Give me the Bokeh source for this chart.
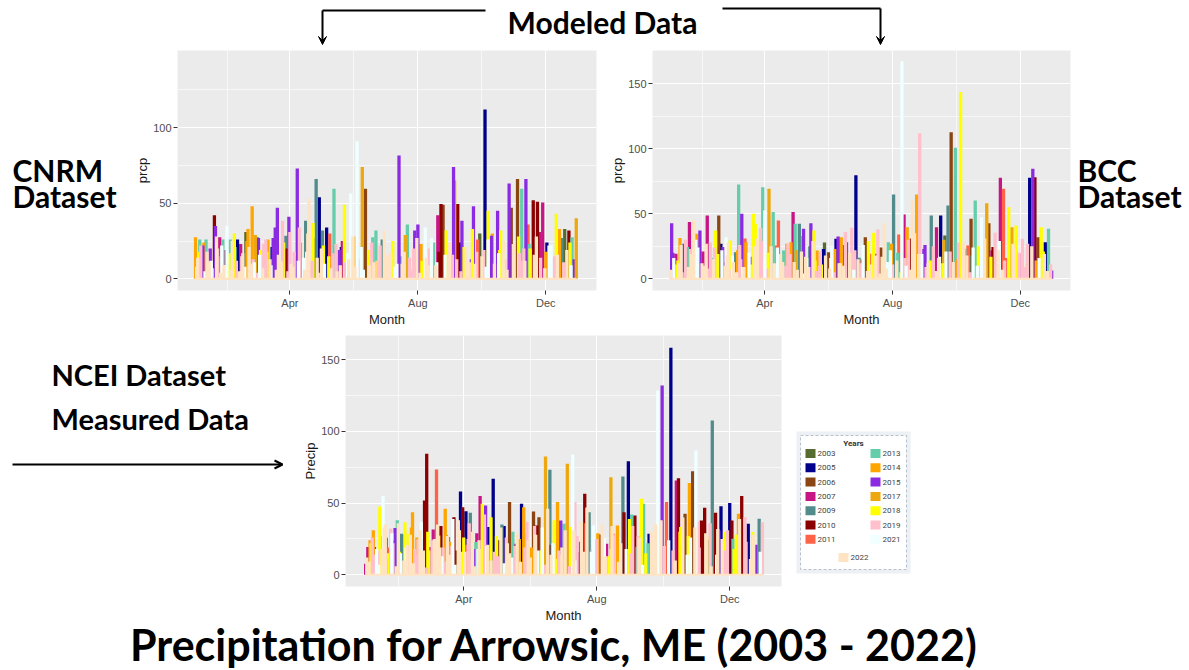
import pandas as pd
from bokeh.plotting import figure
from bokeh.layouts import column, row
from bokeh.models import Range1d, FixedTicker, ColumnDataSource, Arrow, VeeHead, OpenHead
from bokeh.core.properties import value
from bokeh.embed import file_html
from bokeh.resources import INLINE

# ---------------- data ----------------
YEARS = [2003, 2005, 2006, 2007, 2009, 2010, 2011, 2013, 2014, 2015, 2017, 2018, 2019, 2021, 2022]
YEAR_COLORS = ["#556B2F", "#00008B", "#8B4513", "#C71585", "#528B8B", "#8B0000", "#FF6347",
               "#66CDAA", "#FFA500", "#8A2BE2", "#EEA80F", "#FFFF00", "#FFC0CB", "#F0FFFF", "#FFE4C4"]
MONTH_TICKS = [91, 213, 335]
MONTH_LABELS = ["Apr", "Aug", "Dec"]
MONTH_MINOR = [31, 152, 274]

# CNRM (modeled) - prominent daily peaks
cnrm_days = [1, 5, 8, 11, 19, 20, 24, 27, 31, 38,
             41, 44, 49, 51, 55, 60, 61, 66, 70, 74,
             77, 79, 84, 87, 90, 98, 100, 106, 109, 113,
             116, 119, 122, 126, 133, 140, 143, 149, 155, 160,
             163, 170, 173, 181, 195, 203, 210, 213, 220, 228,
             232, 235, 237, 247, 248, 251, 255, 265, 266, 272,
             277, 280, 283, 289, 292, 300, 302, 308, 312, 316,
             318, 323, 327, 332, 336, 345, 348, 353, 357, 360, 364]
cnrm_vals = [27.5, 26, 22, 26, 42, 35, 27.5, 26, 35, 30,
             26, 23, 31, 33, 48, 27.5, 27, 23, 26, 21,
             34, 47, 38.5, 28.5, 41, 73, 34, 38.5, 53, 37,
             66, 54, 32, 34, 59.5, 21, 49, 56.5, 91, 74,
             59.5, 27.5, 32, 32, 81.5, 36, 32, 36, 34, 24,
             42, 49.5, 49, 74, 65, 49.5, 38.5, 33, 48, 30,
             112, 45, 28.5, 45, 32, 63, 47, 66, 59.5, 66,
             36, 52, 51, 50.5, 24, 43, 33, 33, 32, 27.5, 40]
cnrm_years = [2014, 2013, 2015, 2013, 2010, 2015, 2007, 2013, 2021, 2018,
              2005, 2007, 2003, 2014, 2014, 2009, 2015, 2019, 2014, 2005,
              2015, 2015, 2019, 2009, 2015, 2015, 2019, 2009, 2022, 2018,
              2009, 2005, 2009, 2005, 2013, 2005, 2018, 2021, 2021, 2017,
              2006, 2013, 2013, 2022, 2015, 2013, 2015, 2015, 2021, 2013,
              2007, 2010, 2006, 2015, 2014, 2010, 2015, 2018, 2015, 2003,
              2005, 2018, 2015, 2015, 2018, 2015, 2006, 2006, 2013, 2015,
              2011, 2010, 2010, 2007, 2005, 2018, 2014, 2003, 2010, 2013, 2017]
# CNRM - moderate days
cnrm_mid_days = [4, 9, 13, 15, 21, 23, 26, 30, 34, 37,
                 39, 46, 50, 56, 58, 62, 67, 69, 75, 82,
                 88, 91, 96, 101, 107, 114, 117, 123, 129, 132,
                 138, 141, 147, 154, 159, 165, 169, 174, 179, 187,
                 196, 201, 209, 216, 221, 226, 233, 240, 246, 253,
                 259, 264, 270, 276, 284, 290, 295, 303, 309, 314,
                 319, 324, 329, 335, 338, 343, 350, 355, 358, 362]
cnrm_mid_vals = [18, 24, 12, 20, 28, 15, 22, 19, 26, 14,
                 21, 17, 25, 13, 29, 16, 23, 18, 27, 12,
                 20, 31, 15, 24, 18, 27, 14, 22, 30, 17,
                 19, 25, 13, 28, 21, 16, 24, 12, 26, 18,
                 15, 29, 20, 23, 14, 27, 18, 32, 16, 24,
                 21, 13, 26, 19, 30, 17, 25, 14, 28, 20,
                 23, 16, 31, 18, 22, 15, 27, 19, 24, 13]
# CNRM - low days
cnrm_low_days = [3, 6, 12, 16, 22, 28, 33, 36, 45, 52,
                 57, 63, 68, 72, 80, 85, 92, 95, 104, 108,
                 112, 121, 128, 135, 139, 146, 151, 158, 166, 171,
                 177, 184, 189, 193, 200, 205, 212, 217, 224, 230,
                 239, 243, 250, 257, 262, 269, 274, 280, 286, 291,
                 296, 304, 310, 315, 320, 326, 330, 340, 346, 352,
                 2, 10, 14, 17, 25, 29, 35, 40, 43, 48,
                 54, 59, 65, 73, 78, 83, 89, 94, 99, 105,
                 111, 118, 124, 130, 136, 144, 153, 161, 167, 175,
                 183, 191, 198, 207, 215, 223, 231, 242, 254, 267,
                 278, 298, 313, 334, 359]
cnrm_low_vals = [14, 22, 18, 12, 20, 9, 17, 25, 15, 21,
                 11, 19, 26, 13, 16, 24, 10, 18, 14, 30,
                 12, 20, 15, 23, 9, 17, 28, 13, 19, 11,
                 22, 16, 25, 10, 18, 14, 27, 12, 20, 9,
                 16, 24, 13, 21, 11, 18, 15, 26, 10, 19,
                 13, 23, 17, 12, 20, 28, 14, 22, 16, 11,
                 8, 5, 11, 7, 4, 9, 6, 12, 5, 8,
                 10, 4, 7, 9, 6, 11, 5, 8, 12, 6,
                 9, 4, 10, 7, 5, 11, 8, 6, 9, 12,
                 5, 8, 10, 6, 4, 9, 11, 7, 5, 10,
                 8, 6, 12, 7, 9]
LOW_YEARS_A = [2022, 2019, 2022, 2021, 2019, 2022, 2018, 2022, 2019, 2022,
               2021, 2018, 2019, 2022, 2022, 2018, 2022, 2019, 2021, 2022,
               2019, 2022, 2018, 2019, 2022, 2021, 2022, 2019, 2018, 2022,
               2019, 2022, 2018, 2021, 2022, 2019, 2022, 2018, 2019, 2022,
               2021, 2022, 2019, 2018, 2022, 2019, 2022, 2021, 2022, 2018,
               2019, 2022, 2019, 2022, 2018, 2022, 2019, 2021, 2022, 2019,
               2022, 2021, 2022, 2019, 2022, 2021, 2022, 2019, 2022, 2021,
               2022, 2019, 2022, 2021, 2022, 2022, 2019, 2022, 2021, 2022,
               2019, 2022, 2021, 2022, 2022, 2019, 2022, 2021, 2022, 2019,
               2022, 2021, 2022, 2019, 2022, 2022, 2021, 2022, 2019, 2022,
               2021, 2022, 2019, 2022, 2021]
MID_YEARS = [2018, 2014, 2019, 2015, 2022, 2011, 2021, 2007, 2013, 2018,
             2009, 2022, 2014, 2019, 2017, 2021, 2005, 2018, 2015, 2022,
             2010, 2019, 2013, 2014, 2021, 2006, 2022, 2018, 2011, 2019,
             2015, 2007, 2022, 2014, 2021, 2003, 2019, 2018, 2009, 2022,
             2013, 2017, 2019, 2014, 2022, 2021, 2010, 2018, 2019, 2005,
             2022, 2015, 2011, 2019, 2014, 2021, 2022, 2006, 2018, 2019,
             2013, 2022, 2007, 2014, 2021, 2019, 2009, 2022, 2018, 2015]

# BCC (modeled)
bcc_days = [2, 6, 10, 14, 17, 19, 23, 26, 29, 36,
            44, 47, 49, 51, 54, 58, 63, 66, 69, 73,
            80, 82, 86, 87, 89, 91, 95, 99, 102, 104,
            109, 116, 118, 120, 124, 128, 135, 138, 141, 147,
            152, 159, 161, 164, 169, 174, 178, 181, 187, 191,
            195, 198, 205, 209, 214, 219, 222, 224, 227, 232,
            236, 239, 243, 250, 255, 259, 263, 266, 269, 273,
            278, 282, 285, 288, 292, 298, 303, 305, 309, 311,
            316, 319, 324, 327, 331, 337, 344, 347, 349, 352,
            355, 359, 362, 365]
bcc_vals = [42.8, 19.2, 31.3, 26.9, 24.4, 43.6, 44.9, 34.6, 37.2, 48.7,
            37.2, 48.7, 26.9, 24.4, 32, 29.5, 20.5, 72.6, 50, 28.2,
            50, 42.3, 23, 39.2, 70.5, 52.6, 69.2, 51.3, 25.6, 44.9,
            21.8, 28.2, 51.3, 42.3, 42.3, 38.5, 42.8, 37.2, 21.8, 23,
            20.5, 30.8, 32.6, 32, 28.2, 39.2, 79.7, 16.2, 32, 19.2,
            35.4, 19.2, 42.8, 28.2, 64.9, 34.1, 167.4, 49.5, 39.7, 60.3,
            64.9, 112, 23, 48.7, 39.7, 48.7, 33.3, 56.4, 112.8, 100.8,
            143.6, 23, 25.6, 46.2, 60.3, 47.4, 58.2, 42.8, 24.4, 35.4,
            77.7, 69.2, 55.1, 39.7, 41, 30.8, 77.7, 84.6, 78.2, 32,
            39.7, 28.2, 38.5, 6.4]
bcc_years = [2015, 2007, 2014, 2005, 2013, 2007, 2022, 2014, 2015, 2007,
             2018, 2006, 2005, 2015, 2021, 2018, 2009, 2013, 2015, 2014,
             2018, 2018, 2005, 2019, 2013, 2021, 2017, 2013, 2011, 2011,
             2013, 2014, 2007, 2013, 2009, 2015, 2015, 2018, 2014, 2005,
             2006, 2005, 2015, 2014, 2015, 2019, 2005, 2009, 2006, 2011,
             2018, 2010, 2022, 2013, 2009, 2011, 2021, 2007, 2014, 2022,
             2014, 2019, 2015, 2009, 2007, 2005, 2003, 2009, 2006, 2013,
             2018, 2013, 2011, 2006, 2013, 2021, 2017, 2006, 2010, 2019,
             2007, 2011, 2018, 2017, 2018, 2019, 2005, 2015, 2010, 2006,
             2018, 2005, 2013, 2015]
bcc_mid_days = [3, 8, 11, 16, 20, 25, 28, 32, 35, 40,
                43, 46, 52, 56, 60, 65, 68, 72, 77, 81,
                85, 88, 94, 98, 103, 108, 112, 115, 121, 127,
                130, 134, 139, 144, 148, 154, 158, 162, 167, 171,
                177, 184, 190, 197, 202, 208, 212, 218, 225, 231,
                238, 244, 249, 253, 258, 262, 268, 275, 281, 289,
                295, 302, 308, 315, 322, 329, 336, 342, 350, 357]
bcc_mid_vals = [20, 14, 26, 17, 23, 30, 12, 21, 27, 16,
                24, 19, 13, 28, 18, 22, 15, 31, 17, 25,
                14, 29, 20, 16, 24, 13, 27, 19, 22, 33,
                17, 25, 14, 21, 28, 16, 23, 12, 26, 19,
                22, 15, 29, 18, 24, 13, 27, 20, 16, 31,
                19, 26, 14, 23, 17, 30, 21, 15, 28, 18,
                25, 13, 22, 29, 16, 24, 19, 27, 14, 21]
bcc_low_days = [4, 9, 15, 21, 27, 33, 39, 42, 50, 55,
                61, 67, 71, 76, 84, 90, 97, 101, 106, 113,
                119, 126, 131, 137, 143, 149, 155, 163, 168, 172,
                180, 185, 192, 199, 203, 211, 217, 228, 234, 241,
                247, 252, 257, 264, 271, 276, 284, 290, 296, 301,
                307, 314, 320, 328, 334, 341, 346, 353, 358, 364,
                1, 7, 12, 18, 24, 31, 37, 45, 53, 57,
                64, 70, 78, 83, 93, 100, 107, 111, 122, 129,
                133, 140, 145, 153, 157, 166, 176, 183, 189, 196,
                201, 207, 213, 221, 226, 230, 245, 255, 261, 280,
                287, 294, 318, 339, 361]
bcc_low_vals = [16, 12, 30, 19, 24, 10, 28, 15, 22, 18,
                13, 26, 9, 20, 31, 14, 25, 11, 19, 27,
                13, 21, 16, 29, 10, 18, 24, 12, 36, 20,
                15, 26, 11, 38, 17, 22, 14, 30, 35, 19,
                12, 25, 16, 21, 13, 28, 18, 24, 10, 31,
                17, 22, 14, 27, 20, 12, 25, 16, 19, 11,
                7, 11, 5, 9, 6, 12, 8, 4, 10, 7,
                5, 9, 11, 6, 8, 12, 5, 10, 7, 4,
                9, 6, 11, 8, 5, 10, 7, 12, 6, 9,
                4, 8, 11, 5, 10, 7, 9, 6, 12, 8,
                5, 10, 7, 9, 6]

# NCEI (measured)
ncei_days = [1, 3, 5, 9, 14, 17, 20, 24, 28, 34,
             37, 40, 44, 49, 53, 55, 57, 60, 63, 66,
             68, 69, 74, 77, 82, 88, 90, 93, 97, 102,
             106, 108, 111, 114, 116, 118, 123, 128, 133, 138,
             144, 146, 148, 155, 158, 160, 166, 170, 177, 180,
             183, 186, 189, 191, 193, 196, 202, 206, 210, 216,
             219, 222, 226, 228, 232, 237, 238, 242, 245, 248,
             250, 254, 256, 261, 269, 273, 277, 281, 286, 288,
             290, 294, 298, 301, 304, 309, 312, 314, 319, 322,
             325, 327, 331, 335, 337, 338, 343, 346, 349, 352,
             356, 362, 365]
ncei_vals = [7.7, 19.3, 24, 19.3, 47.7, 54.9, 25.8, 32.1, 32.6, 28.6,
             36.7, 28.6, 43.7, 24.7, 25.1, 51.9, 84.4, 19.3, 31.6, 73.5,
             27.4, 27.9, 46, 26.3, 40.2, 58.1, 47.2, 44.4, 43.3, 22.8,
             54.9, 49.5, 48.4, 33.3, 40.2, 67, 24, 34, 50.7, 21.6,
             49.5, 47.2, 28.6, 44.2, 34.4, 40.2, 82.6, 73.3, 50.7, 37.9,
             35.6, 77.4, 33.3, 84, 50.7, 15.8, 56.5, 43.7, 34.4, 28.1,
             19.3, 21.6, 68.1, 28.6, 34.4, 68.6, 43.7, 79.3, 42.1, 41.4,
             19.3, 53, 49.5, 28.6, 128.6, 132.1, 50.7, 158.4, 65.8, 67.4,
             33.3, 42.6, 64, 72.3, 86.7, 37.9, 46.7, 26.3, 107.7, 43.3,
             30.9, 47.9, 29.8, 50, 37.9, 25.1, 42.6, 54.9, 40.2, 35.6,
             29.8, 39.1, 36.7]
ncei_years = [2007, 2007, 2014, 2007, 2018, 2021, 2009, 2019, 2015, 2009,
              2018, 2018, 2014, 2019, 2009, 2010, 2010, 2007, 2007, 2011,
              2018, 2005, 2014, 2009, 2010, 2005, 2010, 2005, 2009, 2013,
              2007, 2018, 2015, 2005, 2018, 2005, 2006, 2005, 2006, 2007,
              2005, 2014, 2014, 2006, 2010, 2006, 2017, 2009, 2014, 2015,
              2013, 2017, 2018, 2021, 2019, 2010, 2010, 2009, 2021, 2006,
              2010, 2007, 2017, 2011, 2014, 2009, 2010, 2005, 2013, 2010,
              2013, 2018, 2013, 2005, 2021, 2015, 2011, 2005, 2007, 2010,
              2018, 2006, 2014, 2006, 2021, 2010, 2010, 2018, 2009, 2010,
              2015, 2005, 2018, 2005, 2010, 2013, 2014, 2010, 2019, 2005,
              2018, 2009, 2019]
ncei_mid_days = [6, 8, 12, 15, 19, 21, 25, 27, 30, 32,
                 35, 39, 43, 46, 48, 52, 56, 58, 61, 64,
                 70, 72, 75, 79, 81, 84, 87, 91, 94, 96,
                 100, 103, 105, 109, 112, 115, 119, 121, 126, 131,
                 136, 142, 149, 153, 157, 163, 169, 174, 178, 185,
                 192, 198, 203, 209, 214, 220, 227, 236, 243, 251,
                 260, 267, 278, 289, 299, 306, 315, 324, 341, 359]
ncei_mid_vals = [22, 31, 17, 27, 35, 19, 29, 24, 38, 16,
                 28, 21, 33, 18, 26, 37, 20, 30, 15, 25,
                 34, 19, 28, 23, 39, 17, 31, 26, 21, 36,
                 18, 29, 24, 40, 20, 32, 16, 27, 35, 22,
                 30, 25, 37, 19, 28, 33, 21, 38, 17, 26,
                 31, 23, 36, 18, 29, 25, 34, 20, 39, 27,
                 22, 35, 19, 30, 26, 37, 24, 32, 28, 21]
ncei_low_days = [2, 7, 11, 18, 22, 26, 31, 38, 42, 47,
                 51, 59, 62, 67, 71, 76, 80, 86, 89, 95,
                 99, 104, 110, 113, 120, 125, 130, 135, 140, 147,
                 150, 156, 162, 168, 173, 179, 184, 190, 195, 199,
                 204, 208, 213, 218, 224, 229, 235, 240, 246, 252,
                 258, 263, 268, 272, 279, 283, 292, 297, 303, 307,
                 313, 317, 323, 328, 333, 339, 344, 350, 357, 363,
                 4, 9, 13, 16, 20, 29, 33, 36, 40, 45,
                 49, 54, 57, 65, 69, 73, 78, 83, 92, 97,
                 101, 107, 116, 122, 128, 133, 138, 143, 152, 159,
                 165, 171, 176, 181, 188, 193, 201, 211, 221, 226,
                 233, 244, 255, 265, 275, 285, 296, 318, 330, 354]
ncei_low_vals = [12, 26, 18, 33, 15, 22, 36, 19, 28, 14,
                 31, 17, 24, 35, 13, 27, 20, 38, 16, 25,
                 30, 18, 42, 21, 15, 33, 26, 12, 29, 19,
                 24, 34, 17, 46, 22, 14, 31, 20, 27, 37,
                 47, 16, 25, 35, 13, 28, 22, 18, 34, 26,
                 15, 30, 21, 38, 24, 17, 40, 27, 33, 19,
                 29, 36, 14, 25, 31, 18, 39, 23, 28, 16,
                 9, 14, 7, 18, 11, 6, 15, 10, 20, 8,
                 13, 17, 5, 12, 19, 9, 14, 7, 16, 11,
                 6, 18, 10, 13, 8, 15, 20, 9, 12, 17,
                 7, 14, 11, 19, 6, 10, 16, 8, 13, 18,
                 9, 15, 7, 12, 20, 10, 14, 6, 17, 11]
LOW_YEARS_B = [2022, 2019, 2021, 2022, 2018, 2019, 2022, 2021, 2022, 2019,
               2022, 2018, 2019, 2022, 2021, 2022, 2019, 2022, 2018, 2019,
               2022, 2021, 2019, 2022, 2018, 2022, 2019, 2021, 2022, 2019,
               2022, 2019, 2018, 2022, 2021, 2019, 2022, 2018, 2019, 2022,
               2022, 2021, 2019, 2022, 2018, 2019, 2022, 2021, 2019, 2022,
               2018, 2022, 2019, 2022, 2021, 2019, 2022, 2018, 2022, 2019,
               2022, 2019, 2021, 2022, 2019, 2018, 2022, 2019, 2022, 2021,
               2022, 2019, 2021, 2022, 2019, 2022, 2021, 2022, 2019, 2022,
               2018, 2022, 2019, 2021, 2022, 2019, 2022, 2021, 2022, 2019,
               2022, 2018, 2022, 2019, 2021, 2022, 2019, 2022, 2022, 2021,
               2019, 2022, 2018, 2022, 2019, 2021, 2022, 2019, 2022, 2018,
               2022, 2019, 2021, 2022, 2019, 2022, 2021, 2022, 2019, 2022]

TITLE_FONT = value("Lato")
AXIS_FONT = "Liberation Sans"

# layout geometry (window pixels)
ROW_B_TOP, ROW_B_H, B_BT, B_BB = 48, 283, 2, 41
ROW_C_TOP, ROW_C_H, C_BT, C_BB = 331, 296, 4, 41


def deco(w, h, left, top, bt=0, bb=0):
    # decoration canvas whose frame maps 1:1 onto window pixels
    f = figure(width=w, height=h, x_range=Range1d(left, left + w),
               y_range=Range1d(top + h - bb, top + bt),
               x_axis_type=None, y_axis_type=None, toolbar_location=None, output_backend="svg",
               min_border_left=0, min_border_right=0, min_border_top=bt, min_border_bottom=bb,
               outline_line_color=None, background_fill_color="white", border_fill_color="white")
    return f


def panel(days, vals, years, w, h, bl, br, bt, bb, xr, yr, ylab, yticks):
    d = pd.DataFrame({"day": days, "val": vals, "year": years})
    order = {y: i for i, y in enumerate(YEARS)}
    d["order"] = d["year"].map(order)
    d = d.sort_values("order", kind="stable").reset_index(drop=True)
    d["color"] = [YEAR_COLORS[i] for i in d["order"]]
    d["base"] = 0.0
    p = figure(width=w, height=h, x_range=Range1d(*xr), y_range=Range1d(*yr),
               toolbar_location=None, output_backend="svg",
               min_border_left=bl, min_border_right=br, min_border_top=bt, min_border_bottom=bb,
               background_fill_color="#EBEBEB", border_fill_color="white", outline_line_color=None)
    p.segment(x0="day", y0="base", x1="day", y1="val", line_color="color",
              line_width=3.3, line_cap="butt", source=ColumnDataSource(d))
    # dry days of the last year drawn: its line rests on zero across the year
    p.segment(x0=[min(days)], y0=[0], x1=[max(days)], y1=[0],
              line_color=YEAR_COLORS[-1], line_width=2.2)
    p.xaxis.ticker = FixedTicker(ticks=MONTH_TICKS, minor_ticks=MONTH_MINOR)
    p.xaxis.major_label_overrides = {t: l for t, l in zip(MONTH_TICKS, MONTH_LABELS)}
    p.yaxis.ticker = FixedTicker(ticks=yticks, minor_ticks=[25, 75, 125])
    p.xaxis.axis_label = "Month"
    p.yaxis.axis_label = ylab
    for ax in (p.xaxis[0], p.yaxis[0]):
        ax.axis_line_color = None
        ax.major_tick_line_color = "#333333"
        ax.major_tick_in = 0
        ax.major_tick_out = 4
        ax.minor_tick_line_color = None
        ax.major_label_text_font = AXIS_FONT
        ax.major_label_text_font_size = "11px"
        ax.major_label_text_color = "#4D4D4D"
        ax.major_label_standoff = 2
        ax.axis_label_text_font = AXIS_FONT
        ax.axis_label_text_font_size = "13px"
        ax.axis_label_text_font_style = "normal"
        ax.axis_label_text_color = "#1A1A1A"
        ax.axis_label_standoff = 0
    p.grid.grid_line_color = "white"
    p.grid.grid_line_width = 1.1
    p.grid.minor_grid_line_color = "white"
    p.grid.minor_grid_line_width = 0.6
    return p


# ---------------- charts ----------------
p1 = panel(cnrm_days + cnrm_mid_days + cnrm_low_days,
           cnrm_vals + cnrm_mid_vals + cnrm_low_vals,
           cnrm_years + MID_YEARS + LOW_YEARS_A,
           478, ROW_B_H, 57, 2, B_BT, B_BB, (-16.2, 383.3), (-7.7, 151), "prcp", [0, 50, 100])
p2 = panel(bcc_days + bcc_mid_days + bcc_low_days,
           bcc_vals + bcc_mid_vals + bcc_low_vals,
           bcc_years + MID_YEARS[::-1] + LOW_YEARS_A[::-1],
           474, ROW_B_H, 54, 2, B_BT, B_BB, (-16.3, 383), (-9.0, 175.6), "prcp", [0, 50, 100, 150])
p3 = panel(ncei_days + ncei_mid_days + ncei_low_days,
           ncei_vals + ncei_mid_vals + ncei_low_vals,
           ncei_years + MID_YEARS + LOW_YEARS_B,
           505, ROW_C_H, 55, 14, C_BT, C_BB, (-17.5, 382.5), (-8.2, 167), "Precip", [0, 50, 100, 150])

# ---------------- decorations ----------------
hdr = deco(1189, 48, 0, 0)
hdr.text(x=[602], y=[21], text=["Modeled Data"], text_font=TITLE_FONT, text_font_style="bold",
         text_font_size="30px", text_align="center", text_baseline="middle", text_color="black")
hdr.segment(x0=[485, 722], y0=[10, 8], x1=[322, 880], y1=[10, 8], line_color="black", line_width=2)
hdr.add_layout(Arrow(end=VeeHead(size=8, fill_color="black", line_color="black"),
                     x_start=322, y_start=10, x_end=322, y_end=44, line_width=2))
hdr.add_layout(Arrow(end=VeeHead(size=8, fill_color="black", line_color="black"),
                     x_start=880, y_start=8, x_end=880, y_end=44, line_width=2))

cn = deco(120, ROW_B_H, 0, ROW_B_TOP, B_BT, B_BB)
cn.text(x=[12, 12], y=[169, 195], text=["CNRM", "Dataset"], text_font=TITLE_FONT,
        text_font_style="bold", text_font_size="30px", text_baseline="middle", text_color="black")

bc = deco(117, ROW_B_H, 1072, ROW_B_TOP, B_BT, B_BB)
bc.text(x=[1077, 1077], y=[169, 195], text=["BCC", "Dataset"], text_font=TITLE_FONT,
        text_font_style="bold", text_font_size="30px", text_baseline="middle", text_color="black")

nc = deco(290, ROW_C_H, 0, ROW_C_TOP, C_BT, C_BB)
nc.text(x=[51, 51], y=[374, 418], text=["NCEI Dataset", "Measured Data"], text_font=TITLE_FONT,
        text_font_style="bold", text_font_size="29px", text_baseline="middle", text_color="black")
nc.add_layout(Arrow(end=OpenHead(size=8, line_width=2, line_color="black"),
                    x_start=12, y_start=464, x_end=282, y_end=464, line_width=2))

lg = deco(394, ROW_C_H, 795, ROW_C_TOP, C_BT, C_BB)
lg.quad(left=[796], right=[910], top=[431], bottom=[573], fill_color="#EDF0F4", line_color=None)
lg.quad(left=[800], right=[906], top=[435], bottom=[569], fill_color="white",
        line_color="#B7C2CE", line_dash="3 2", line_width=1)
lg.text(x=[853], y=[443], text=["Years"], text_font=value("Roboto"), text_font_style="bold",
        text_font_size="8px", text_align="center", text_baseline="middle", text_color="#333333")
sw_x, sw_y, lab_x = [], [], []
for i, yv in enumerate(YEARS):
    if i < 7:
        sw_x.append(810); sw_y.append(453 + i * 14.3); lab_x.append(817)
    elif i < 14:
        sw_x.append(875); sw_y.append(453 + (i - 7) * 14.3); lab_x.append(882)
    else:
        sw_x.append(843); sw_y.append(557); lab_x.append(850)
lg.rect(x=sw_x, y=sw_y, width=10, height=9, fill_color=YEAR_COLORS, line_color=None)
lg.text(x=lab_x, y=sw_y, text=[str(y) for y in YEARS], text_font=value("Roboto"),
        text_font_size="8px", text_baseline="middle", text_color="#444444")

tt = deco(1189, 42, 0, 627)
tt.text(x=[554], y=[644], text=["Precipitation for Arrowsic, ME (2003 - 2022)"], text_font=TITLE_FONT,
        text_font_style="bold", text_font_size="43px", text_align="center", text_baseline="middle",
        text_color="black")

layout = column(hdr, row(cn, p1, p2, bc), row(nc, p3, lg), tt)
open("out.html", "w").write(file_html(layout, INLINE))
